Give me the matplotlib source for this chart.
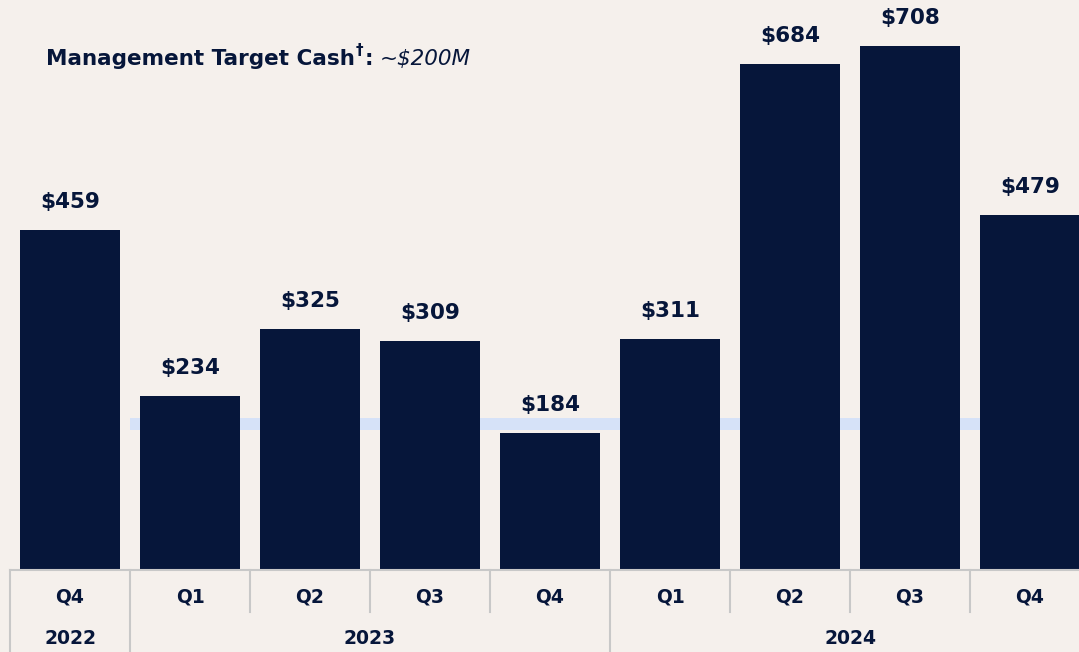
import matplotlib.pyplot as plt
from matplotlib.transforms import blended_transform_factory

quarters = ['Q4', 'Q1', 'Q2', 'Q3', 'Q4', 'Q1', 'Q2', 'Q3', 'Q4']
cash = [459, 234, 325, 309, 184, 311, 684, 708, 479]
years = ['2022', '2023', '2024']
year_spans = [(0, 0), (1, 4), (5, 8)]
target = 200

bg = '#f5f0ec'
navy = '#06163a'
grid = '#c8c8c8'

plt.rcParams['font.family'] = ['DejaVu Sans']

W, H = 1079, 652
fig = plt.figure(figsize=(W / 100, H / 100), dpi=100, facecolor=bg)
ax = fig.add_axes([10 / W, 83 / H, 1069 / W, 569 / H])
ax.set_facecolor(bg)
ax.set_xlim(-0.5, 8.408)
ax.set_ylim(0, 770.3)
for s in ax.spines.values():
    s.set_visible(False)
ax.set_xticks([])
ax.set_yticks([])

# target band (starts after the first bar)
ax.fill_between([0.5, 8.5], target - 12, target + 4, color='#d6e2f8', lw=0, zorder=1)

x = list(range(len(cash)))
ax.bar(x, cash, width=100 / 120, color=navy, zorder=2)
for xi, v in zip(x, cash):
    ax.annotate(f'${v}', (xi, v), xytext=(0, 20), textcoords='offset points',
                ha='center', va='center', fontsize=15.5, fontweight='bold', color=navy)

# table below bars
tr = blended_transform_factory(ax.transData, fig.transFigure)
def fy(p):
    return 1 - p / H

ax.plot([-0.5, 8.5], [fy(570), fy(570)], transform=tr, color=grid, lw=1.5, clip_on=False)
year_starts = [a for a, b in year_spans]
for i in range(len(cash)):
    xl = i - 0.5
    bottom = fy(652) if i in year_starts else fy(612)
    ax.plot([xl, xl], [fy(570), bottom], transform=tr, color=grid, lw=1.5, clip_on=False)
    ax.text(i, fy(597), quarters[i], transform=tr, ha='center', va='center',
            fontsize=13.5, fontweight='bold', color=navy)
for yr, (a, b) in zip(years, year_spans):
    ax.text((a + b) / 2, fy(638), yr, transform=tr, ha='center', va='center',
            fontsize=13.5, fontweight='bold', color=navy)

# title: bold part, raised dagger, colon, italic value
fig.canvas.draw()
r = fig.canvas.get_renderer()
t1 = fig.text(46 / W, fy(59), 'Management Target Cash', ha='left', va='center',
              fontsize=15.5, fontweight='bold', color=navy)
x1 = t1.get_window_extent(r).x1
t2 = fig.text((x1 + 1) / W, fy(51), '\u2020', ha='left', va='center',
              fontsize=11, fontweight='bold', color=navy)
x2 = t2.get_window_extent(r).x1
t3 = fig.text((x2 + 1) / W, fy(59), ':', ha='left', va='center',
              fontsize=15.5, fontweight='bold', color=navy)
x3 = t3.get_window_extent(r).x1
fig.text((x3 + 7) / W, fy(59), '~$200M', ha='left', va='center',
         fontsize=15.5, style='italic', color=navy)

fig.savefig('out.png', dpi=100, facecolor=bg)
